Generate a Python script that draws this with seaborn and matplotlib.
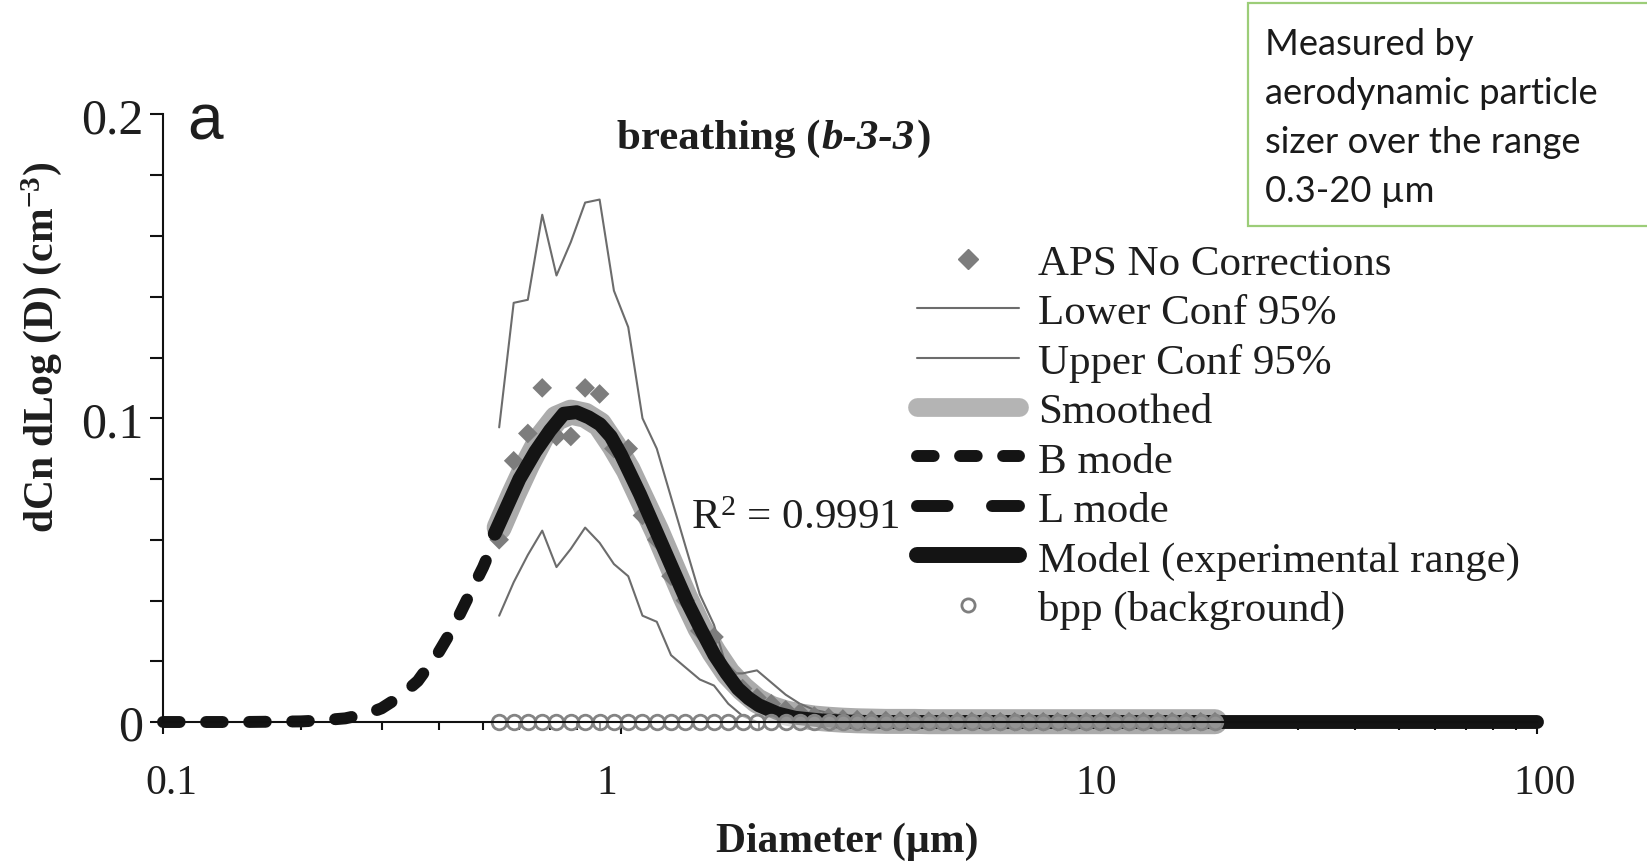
import matplotlib
matplotlib.use("Agg")
import matplotlib.pyplot as plt
import seaborn as sns
import pandas as pd
from matplotlib.lines import Line2D
from matplotlib.patches import Rectangle
from matplotlib.offsetbox import TextArea, HPacker, AnchoredOffsetbox
from matplotlib.ticker import FixedLocator, NullFormatter, LogLocator
from matplotlib.transforms import ScaledTranslation

# ---------------- data ----------------
aps_d = [0.542, 0.583, 0.626, 0.673, 0.723, 0.777, 0.835, 0.898, 0.965, 1.037,
         1.114, 1.197, 1.286, 1.382, 1.486, 1.596, 1.715, 1.843, 1.981, 2.129,
         2.288, 2.458, 2.642, 2.839, 3.051, 3.278, 3.523, 3.786, 4.068, 4.371,
         4.698, 5.048, 5.425, 5.829, 6.264, 6.732, 7.234, 7.774, 8.354, 8.977,
         9.647, 10.37, 11.14, 11.97, 12.86, 13.82, 14.86, 15.96, 17.15, 18.43,
         19.81]
aps_raw = [0.060, 0.086, 0.095, 0.110, 0.094, 0.094, 0.110, 0.108, 0.090, 0.090,
           0.068, 0.060, 0.048, 0.040, 0.030, 0.028, 0.016, 0.011, 0.008, 0.006,
           0.004, 0.003, 0.002, 0.0015, 0.001, 0.0008, 0.0006, 0.0005, 0.0004, 0.0003,
           0.0003, 0.0002, 0.0002, 0.0002, 0.0002, 0.0001, 0.0001, 0.0001, 0.0001, 0.0001,
           0.0001, 0.0001, 0.0001, 0.0001, 0.0001, 0.0001, 0.0001, 0.0001, 0.0001, 0.0001,
           0.0001]
lower_conf = [0.035, 0.046, 0.055, 0.063, 0.051, 0.057, 0.064, 0.059, 0.052, 0.048,
              0.035, 0.033, 0.022, 0.018, 0.014, 0.012, 0.006, 0.002, 0.0, 0.0,
              0.0, 0.0, 0.0, 0.0, 0.0, 0.0, 0.0, 0.0, 0.0, 0.0,
              0.0, 0.0, 0.0, 0.0, 0.0, 0.0, 0.0, 0.0, 0.0, 0.0,
              0.0, 0.0, 0.0, 0.0, 0.0, 0.0, 0.0, 0.0, 0.0, 0.0,
              0.0]
upper_conf = [0.097, 0.138, 0.139, 0.167, 0.147, 0.158, 0.171, 0.172, 0.142, 0.130,
              0.100, 0.090, 0.074, 0.058, 0.042, 0.032, 0.016, 0.016, 0.017, 0.013,
              0.009, 0.006, 0.004, 0.003, 0.002, 0.0015, 0.001, 0.001, 0.0008, 0.0007,
              0.0006, 0.0005, 0.0005, 0.0004, 0.0004, 0.0003, 0.0003, 0.0003, 0.0003, 0.0003,
              0.0003, 0.0003, 0.0003, 0.0003, 0.0003, 0.0003, 0.0003, 0.0003, 0.0003, 0.0003,
              0.0003]
smoothed = [0.064, 0.075, 0.085, 0.094, 0.100, 0.102, 0.101, 0.098, 0.091, 0.083,
            0.073, 0.063, 0.052, 0.041, 0.031, 0.023, 0.016, 0.011, 0.007, 0.0045,
            0.003, 0.002, 0.0013, 0.0009, 0.0006, 0.0004, 0.0003, 0.0002, 0.0002, 0.0002,
            0.0001, 0.0001, 0.0001, 0.0001, 0.0001, 0.0001, 0.0001, 0.0001, 0.0001, 0.0001,
            0.0001, 0.0001, 0.0001, 0.0001, 0.0001, 0.0001, 0.0001, 0.0001, 0.0001, 0.0001,
            0.0001]
bpp = [0.0, 0.0, 0.0, 0.0, 0.0, 0.0, 0.0, 0.0, 0.0, 0.0,
       0.0, 0.0, 0.0, 0.0, 0.0, 0.0, 0.0, 0.0, 0.0, 0.0,
       0.0, 0.0, 0.0, 0.0, 0.0, 0.0, 0.0, 0.0, 0.0, 0.0,
       0.0, 0.0, 0.0, 0.0, 0.0, 0.0, 0.0, 0.0, 0.0, 0.0,
       0.0, 0.0, 0.0, 0.0, 0.0, 0.0, 0.0, 0.0, 0.0, 0.0,
       0.0]

bmode_d = [0.1, 0.15, 0.2, 0.22, 0.25, 0.28, 0.3, 0.33, 0.36, 0.4, 0.43, 0.46, 0.5, 0.53]
bmode_v = [0.0, 0.0, 0.0002, 0.0005, 0.0012, 0.0028, 0.0045, 0.0085, 0.0135, 0.023,
           0.031, 0.040, 0.051, 0.060]

lmode_d = [3.0, 100.0]
lmode_v = [0.0, 0.0]

model_d = [0.53, 0.56, 0.6, 0.65, 0.7, 0.75, 0.8, 0.85, 0.9, 0.95, 1.0, 1.1, 1.2, 1.3,
           1.4, 1.5, 1.6, 1.7, 1.8, 1.9, 2.0, 2.2, 2.4, 2.7, 3.0, 3.5, 4, 5, 7, 10,
           20, 50, 100]
model_v = [0.062, 0.070, 0.080, 0.089, 0.096, 0.1015, 0.102, 0.1003, 0.098, 0.094,
           0.088, 0.075, 0.062, 0.050, 0.039, 0.030, 0.022, 0.016, 0.011, 0.0078,
           0.0055, 0.0028, 0.0014, 0.0006, 0.0002, 0.0, 0.0, 0.0, 0.0, 0.0,
           0.0, 0.0, 0.0]

x_ticks = [0.1, 1, 10, 100]
x_ticklabels = ["0.1", "1", "10", "100"]
y_ticks = [0.0, 0.1, 0.2]
y_ticklabels = ["0", "0.1", "0.2"]

legend_labels = ["APS No Corrections", "Lower Conf 95%", "Upper Conf 95%", "Smoothed",
                 "B mode", "L mode", "Model (experimental range)", "bpp (background)"]
note_lines = ["Measured by", "aerodynamic particle", "sizer over the range", "0.3-20 \u00b5m"]

# ---------------- style ----------------
sns.set_style("ticks")
plt.rcParams["font.family"] = ["Liberation Serif", "DejaVu Serif"]
plt.rcParams["mathtext.fontset"] = "custom"
plt.rcParams["mathtext.rm"] = "Liberation Serif"
plt.rcParams["mathtext.bf"] = "Liberation Serif:bold"
plt.rcParams["mathtext.it"] = "Liberation Serif:italic"
plt.rcParams["lines.scale_dashes"] = False
TXT = "#1e1e1e"

fig = plt.figure(figsize=(16.47, 8.62), dpi=100)
ax = fig.add_axes([0.09897, 0.16125, 0.83424, 0.70476])

aps = pd.DataFrame({"d": aps_d, "raw": aps_raw, "lo": lower_conf, "up": upper_conf,
                    "sm": smoothed, "bpp": bpp})

GREY_SM = "#ababab"
GREY_THIN = "#6c6c6c"
GREY_DIA = "#7d7d7d"
BLACK = "#141414"

sns.lineplot(data=aps, x="d", y="sm", ax=ax, color=GREY_SM, lw=18,
             solid_capstyle="round", zorder=2, legend=False, clip_on=False)
sns.lineplot(x=lmode_d, y=lmode_v, ax=ax, color=BLACK, lw=8.6, zorder=1.8,
             legend=False, clip_on=False)
ax.lines[-1].set_dashes((22, 32))
ax.lines[-1].set_dash_capstyle("round")
sns.lineplot(data=aps, x="d", y="lo", ax=ax, color=GREY_THIN, lw=1.5, zorder=2.2,
             legend=False, clip_on=False)
sns.lineplot(data=aps, x="d", y="up", ax=ax, color=GREY_THIN, lw=1.5, zorder=2.2,
             legend=False, clip_on=False)
sns.scatterplot(data=aps, x="d", y="raw", ax=ax, marker="D", s=100, color=GREY_DIA,
                edgecolor="none", zorder=2.4, legend=False, clip_on=False)
sns.lineplot(x=model_d, y=model_v, ax=ax, color=BLACK, lw=10,
             solid_capstyle="round", zorder=3, legend=False, clip_on=False)
sns.lineplot(x=bmode_d, y=bmode_v, ax=ax, color=BLACK, lw=8.6, zorder=3,
             legend=False, clip_on=False)
ax.lines[-1].set_dashes((12, 19))
ax.lines[-1].set_dash_capstyle("round")
sns.scatterplot(data=aps, x="d", y="bpp", ax=ax, marker="o", s=110,
                facecolor=(1, 1, 1, 0.55), edgecolor="#848484", linewidth=2.0,
                zorder=3.5, legend=False, clip_on=False)

ax.set_xscale("log")
ax.set_xlim(0.1, 100)
ax.set_ylim(0, 0.2)
ax.xaxis.set_major_locator(FixedLocator(x_ticks))
ax.set_xticklabels(x_ticklabels)
ax.xaxis.set_minor_locator(LogLocator(base=10, subs=(2, 3, 4, 5, 6, 7, 8, 9)))
ax.xaxis.set_minor_formatter(NullFormatter())
ax.yaxis.set_major_locator(FixedLocator(y_ticks))
ax.set_yticklabels(y_ticklabels)
ax.yaxis.set_minor_locator(FixedLocator([0.02, 0.04, 0.06, 0.08, 0.12, 0.14, 0.16, 0.18]))

for s in ["top", "right"]:
    ax.spines[s].set_visible(False)
for s in ["left", "bottom"]:
    ax.spines[s].set_linewidth(1.5)
    ax.spines[s].set_color("#111111")
    ax.spines[s].set_zorder(4)

ax.tick_params(axis="x", which="major", length=8.6, width=1.5, direction="out",
               labelsize=30, pad=21, colors="#111111", labelcolor=TXT)
ax.tick_params(axis="x", which="minor", length=5.8, width=1.5, direction="out", colors="#111111")
ax.tick_params(axis="y", which="both", length=9.4, width=1.5, direction="out",
               labelsize=36, pad=5, colors="#111111", labelcolor=TXT)

# the original figure's x tick labels sit slightly off their ticks
for lab, dx in zip(ax.get_xticklabels(), [8, -14, 17, 8]):
    lab.set_transform(lab.get_transform() + ScaledTranslation(dx / 100, 0, fig.dpi_scale_trans))

ax.set_xlabel("Diameter (\u00b5m)", fontsize=30, fontweight="bold", color=TXT)
ax.xaxis.set_label_coords(0.498, -0.164)
ax.set_ylabel(r"dCn dLog (D) (cm$^{\mathbf{-3}}$)", fontsize=30, fontweight="bold", color=TXT)
ax.yaxis.set_label_coords(-0.072, 0.619)
ax.set_facecolor("white")
ax.grid(False)

# legend
handles = [
    Line2D([], [], marker="D", ls="none", color=GREY_DIA, ms=10),
    Line2D([], [], color=GREY_THIN, lw=1.5),
    Line2D([], [], color=GREY_THIN, lw=1.5),
    Line2D([], [], color="#b4b4b4", lw=13.5, solid_capstyle="round"),
    Line2D([], [], color=BLACK, lw=8.6, dashes=(12, 19), dash_capstyle="round"),
    Line2D([], [], color=BLACK, lw=8.6, dashes=(22, 32), dash_capstyle="round"),
    Line2D([], [], color=BLACK, lw=11.5, solid_capstyle="round"),
    Line2D([], [], marker="o", ls="none", mfc="white", mec="#7e7e7e", mew=2.0, ms=9.5),
]
leg = ax.legend(handles, legend_labels, loc="upper left",
                bbox_to_anchor=(917 / 1647, 1 - 244.5 / 862), bbox_transform=fig.transFigure,
                frameon=False, fontsize=31, handlelength=2.37, handletextpad=0.45,
                labelspacing=0.24, borderpad=0, borderaxespad=0, handleheight=0.7)
for t in leg.get_texts():
    t.set_color(TXT)

# title with bold + bold-italic parts
bold = dict(fontsize=31, fontweight="bold", color=TXT, family="Liberation Serif")
boldit = dict(fontsize=31, fontweight="bold", fontstyle="italic", color=TXT,
              family="Liberation Serif")
packer = HPacker(children=[TextArea("breathing (", textprops=bold),
                           TextArea("b-3-3", textprops=boldit),
                           TextArea(")", textprops=bold)],
                 align="baseline", pad=0, sep=1)
title_box = AnchoredOffsetbox(loc="center", child=packer, frameon=False, pad=0, borderpad=0,
                              bbox_to_anchor=(774 / 1647, 1 - 139 / 862),
                              bbox_transform=fig.transFigure)
fig.add_artist(title_box)

fig.text(205 / 1647, 1 - 122 / 862, "a", family="Liberation Sans", fontsize=46,
         ha="center", va="center", color=TXT)
fig.text(795 / 1647, 1 - 519 / 862, r"R$^{2}$ = 0.9991", fontsize=31,
         ha="center", va="center", color=TXT)

# note box
fig.patches.append(Rectangle((1248 / 1647, 1 - 227 / 862), 0.5, 223 / 862,
                             transform=fig.transFigure, facecolor="white",
                             edgecolor="#9ccd78", lw=1.6, zorder=0))
for line, yb in zip(note_lines, [55, 104, 153, 202]):
    fig.text(1265 / 1647, 1 - yb / 862, line, family=["Lato", "DejaVu Sans"], fontsize=26.2,
             ha="left", va="baseline", color="#1a1a1a")

fig.savefig("out.png", dpi=100, facecolor="white")
